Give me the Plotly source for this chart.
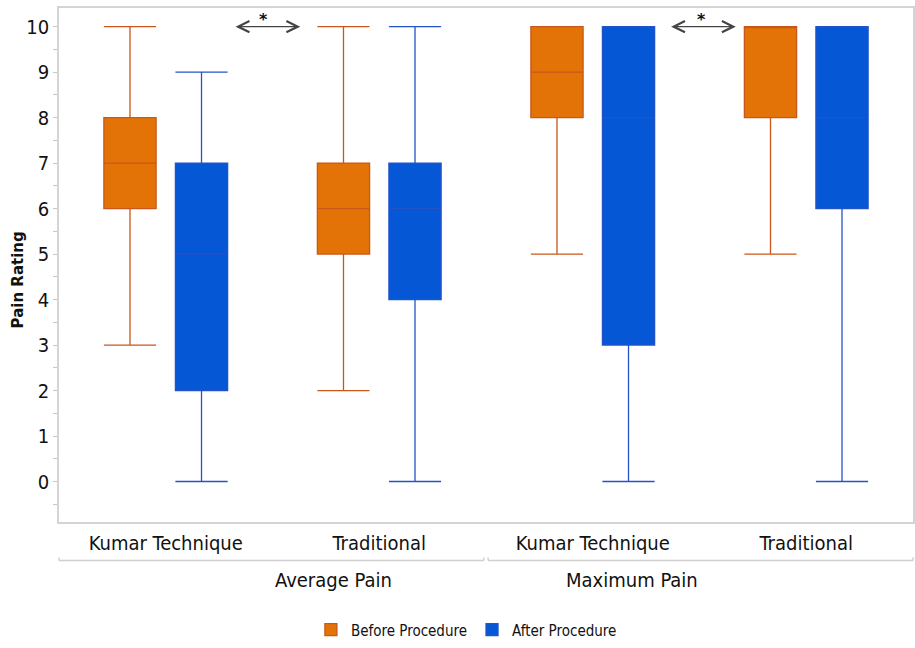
import plotly.graph_objects as go

# ---- data ----
measures = ["Average Pain", "Average Pain", "Maximum Pain", "Maximum Pain"]
groups = ["Kumar Technique", "Traditional", "Kumar Technique", "Traditional"]

before_low = [3, 2, 5, 5]
before_q1 = [6, 5, 8, 8]
before_med = [7, 6, 9, 10]
before_q3 = [8, 7, 10, 10]
before_high = [10, 10, 10, 10]

after_low = [0, 0, 0, 0]
after_q1 = [2, 4, 3, 6]
after_med = [5, 6, 8, 8]
after_q3 = [7, 7, 10, 10]
after_high = [9, 10, 10, 10]

y_ticks = list(range(0, 11))
series_names = ["Before Procedure", "After Procedure"]

keys = [f"{m} | {g}" for m, g in zip(measures, groups)]

FONT = "DejaVu Sans Condensed, Liberation Sans Narrow, sans-serif"

fig = go.Figure()
fig.add_trace(go.Box(
    name=series_names[0], x=keys,
    q1=before_q1, median=before_med, q3=before_q3,
    lowerfence=before_low, upperfence=before_high,
    fillcolor="#E37306", line=dict(color="#C9571A", width=1.3),
    whiskerwidth=1, boxpoints=False,
))
fig.add_trace(go.Box(
    name=series_names[1], x=keys,
    q1=after_q1, median=after_med, q3=after_q3,
    lowerfence=after_low, upperfence=after_high,
    fillcolor="#0557D5", line=dict(color="#2453C8", width=1.3),
    whiskerwidth=1, boxpoints=False,
))

fig.update_layout(
    width=915, height=648,
    margin=dict(l=59, r=2, t=8, b=121),
    paper_bgcolor="white", plot_bgcolor="white",
    boxmode="group", boxgap=0.33, boxgroupgap=0.27,
    font=dict(family=FONT, color="#111111"),
    showlegend=True,
    legend=dict(orientation="h", x=0.295, xanchor="left", y=-0.21, yanchor="middle",
                font=dict(size=15, family=FONT), itemwidth=30, traceorder="normal"),
)

fig.update_xaxes(
    type="category", categoryorder="array", categoryarray=keys,
    tickvals=keys, ticktext=groups,
    tickfont=dict(size=20, family=FONT),
    showgrid=False, showline=True, linecolor="#d4d4d4", linewidth=1.5, mirror=True,
    ticks="", range=[-0.5, 3.5], ticklabelstandoff=2, automargin=False,
)
fig.update_yaxes(
    range=[-0.89, 10.41], tickvals=y_ticks,
    tickfont=dict(size=20, family=FONT),
    showgrid=False, zeroline=False, automargin=False,
    showline=True, linecolor="#d4d4d4", linewidth=1.5, mirror=True,
    ticks="outside", ticklen=4, tickcolor="#c8c8c8",
    minor=dict(dtick=0.5, ticks="outside", ticklen=4, tickcolor="#c8c8c8"),
)

# y-axis title
fig.add_annotation(x=-0.048, y=0.47, xref="paper", yref="paper", text="<b>Pain Rating</b>",
                   textangle=-90, showarrow=False, xanchor="center", yanchor="middle",
                   font=dict(size=15, family="DejaVu Sans, Verdana, sans-serif", color="#111111"))

# significance arrows and stars
for (x0, x1, xs) in [(0.32, 0.63, 0.46), (2.36, 2.67, 2.51)]:
    fig.add_annotation(x=x1, y=10, ax=x0, ay=10, xref="x", yref="y", axref="x", ayref="y",
                       text="", showarrow=True, arrowhead=5, startarrowhead=5,
                       arrowside="end+start", arrowsize=1.6, arrowwidth=1.4, arrowcolor="#444444")
    fig.add_annotation(x=xs, y=10.39, xref="x", yref="y", text="<b>*</b>", showarrow=False,
                       yanchor="top", borderpad=0,
                       font=dict(size=16, color="#111111", family="DejaVu Sans"))

# outer category labels and brackets
outer = ["Average Pain", "Maximum Pain"]
for i, label in enumerate(outer):
    fig.add_annotation(x=0.25 + 0.5 * i, y=-0.112, xref="paper", yref="paper", text=label,
                       showarrow=False, font=dict(size=20, family=FONT), yanchor="middle")
    xa, xb = (0.0, 0.4975) if i == 0 else (0.5025, 1.0)
    fig.add_shape(type="line", xref="paper", yref="paper", x0=xa, x1=xb, y0=-0.075, y1=-0.075,
                  line=dict(color="#cfcfcf", width=1.5))
    for xe in (xa, xb):
        fig.add_shape(type="line", xref="paper", yref="paper", x0=xe, x1=xe, y0=-0.075, y1=-0.069,
                      line=dict(color="#cfcfcf", width=1.5))

page_fix = (
    "document.documentElement.style.margin='0';"
    "document.documentElement.style.overflow='hidden';"
    "document.body.style.margin='0';"
    "document.body.style.overflow='hidden';"
    "document.querySelectorAll('.plotly-graph-div').forEach(function(d){d.style.overflow='hidden';});"
    "document.querySelectorAll('.svg-container').forEach(function(d){d.style.display='block';});"
)
fig.write_html("out.html", config={"displayModeBar": False}, post_script=page_fix)
